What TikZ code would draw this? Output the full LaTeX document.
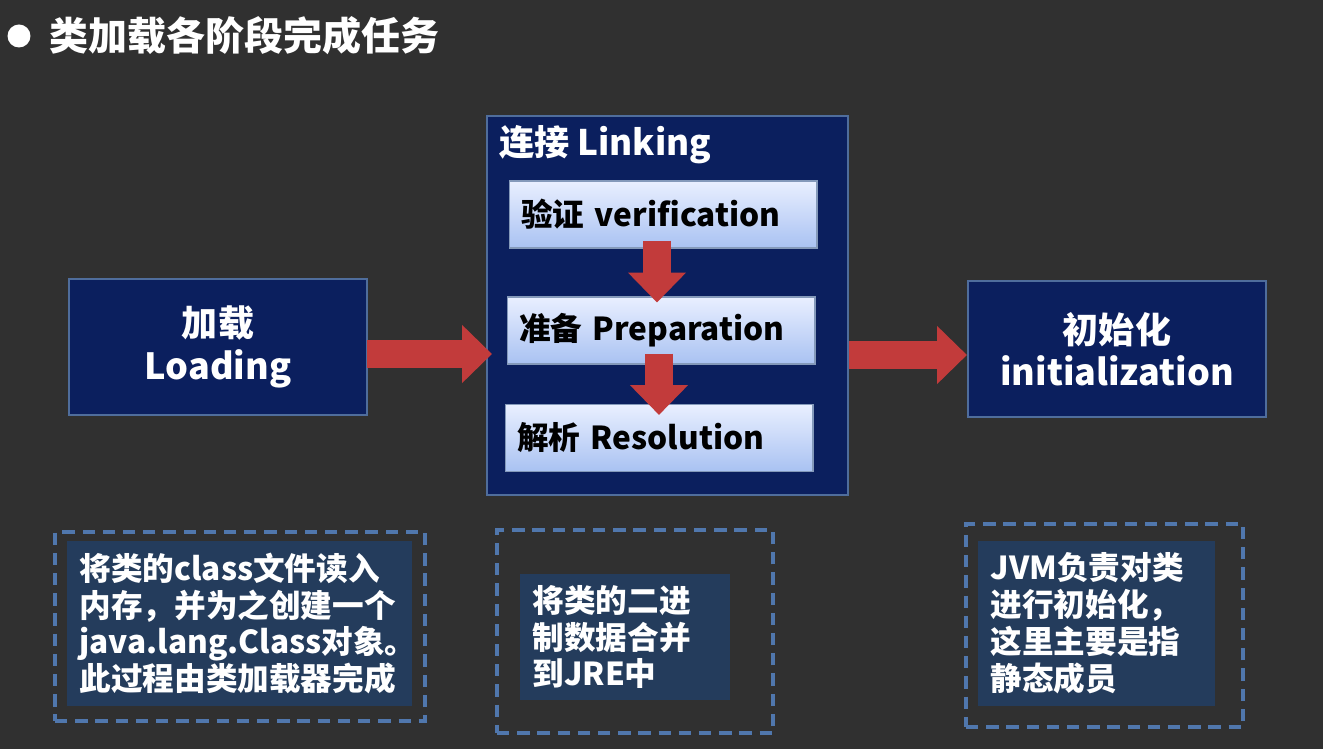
\documentclass[tikz,border=0pt]{standalone}
\usepackage{fontspec}
\setmainfont{Noto Sans CJK SC}
\usetikzlibrary{arrows.meta,calc}

\definecolor{board}{HTML}{303030}
\definecolor{navy}{HTML}{0B1F5E}
\definecolor{navyline}{HTML}{4F6D9C}
\definecolor{notefill}{HTML}{243C5C}
\definecolor{dashblue}{HTML}{5077AD}
\definecolor{arrowred}{HTML}{C23B3B}
\definecolor{steptop}{HTML}{E9EFFF}
\definecolor{stepbot}{HTML}{A9C2F2}

\tikzset{
	phase/.style = {draw = navyline, line width = 1.2pt, fill = navy, text = white,
		font = \bfseries\fontsize{20.5}{24}\selectfont, align = center, inner sep = 0pt},
	stepbox/.style = {draw = navyline!70, line width = 0.6pt, top color = steptop, bottom color = stepbot,
		text = black, font = \bfseries\fontsize{18}{22}\selectfont, align = left,
		inner xsep = 0.24cm, inner ysep = 0pt, text width = 5.68cm, minimum height = 1.34cm},
	note/.style = {fill = notefill, text = white, font = \bfseries\fontsize{18}{21}\selectfont,
		align = left, inner xsep = 0.25cm, inner ysep = 0pt},
	notebox/.style = {draw = dashblue, line width = 1.8pt, dash pattern = on 7pt off 4.5pt, inner sep = 0pt},
	fat/.style = {draw = arrowred, line width = 16pt, -{Triangle[length = 17pt, width = 32pt]}}
}

\begin{document}
\begin{tikzpicture}[x = 0.02cm, y = -0.02cm]

	% Chalkboard and title
	
	\fill [board] (0, 0) rectangle (1323, 749);
	\useasboundingbox (0, 0) rectangle (1323, 749);
	
	\node [circle, fill = white, minimum size = 0.46cm, inner sep = 0pt] (dot) at (19, 36) {};
	\node [anchor = west, text = white, font = \bfseries\fontsize{22.2}{26}\selectfont] (title) at (43, 36) {类加载各阶段完成任务};
	
	% The three phases
	
	\node [phase, minimum width = 5.96cm, minimum height = 2.72cm] (load) at (218, 347) {加载\\Loading};
	\node [phase, minimum width = 7.22cm, minimum height = 7.58cm] (link) at (667.5, 305.5) {};
	\node [phase, minimum width = 5.96cm, minimum height = 2.72cm] (init) at (1117, 349) {初始化\\initialization};
	
	\node [anchor = west, text = white, font = \bfseries\fontsize{20}{24}\selectfont] (linktitle) at (493, 145) {连接 Linking};
	
	% Steps inside Linking
	
	\node [stepbox] (verif) at (663, 214.5) {验证 verification};
	\node [stepbox] (prep) at (661, 330.5) {准备 Preparation};
	\node [stepbox] (resol) at (659, 438) {解析 Resolution};
	
	% Red arrows
	
	\draw [fat] ($(load.east) + (-1, 7)$) -- ($(load.east -| link.west) + (6, 7)$);
	\draw [fat] ($(link.east |- init.west) + (0, 6)$) -- ($(init.west) + (0, 6)$);
	\draw [fat] ($(verif.south) + (-6, -8)$) -- ($(verif.south |- prep.north) + (-6, 6)$);
	\draw [fat] ($(prep.south) + (-2, -11)$) -- ($(prep.south |- resol.north) + (-2, 11)$);
	
	% Notes under each phase
	
	\node [notebox, minimum width = 7.4cm, minimum height = 3.78cm] (loadframe) at (240, 626.5) {};
	\node [note, text width = 6.4cm, minimum height = 3.3cm] (loadnote) at (239.5, 623.5)
		{将类的class文件读入\\内存，并为之创建一个\\java.lang.Class对象。\\此过程由类加载器完成};
	
	\node [notebox, minimum width = 5.52cm, minimum height = 4.06cm] (linkframe) at (635, 631.5) {};
	\node [note, text width = 3.7cm, minimum height = 2.52cm] (linknote) at (625, 637)
		{将类的二进\\制数据合并\\到JRE中};
	
	\node [notebox, minimum width = 5.54cm, minimum height = 4.06cm] (initframe) at (1104.5, 625.5) {};
	\node [note, text width = 4.24cm, minimum height = 3.3cm] (initnote) at (1096.5, 623.5)
		{JVM负责对类\\进行初始化，\\这里主要是指\\静态成员};

\end{tikzpicture}
\end{document}
